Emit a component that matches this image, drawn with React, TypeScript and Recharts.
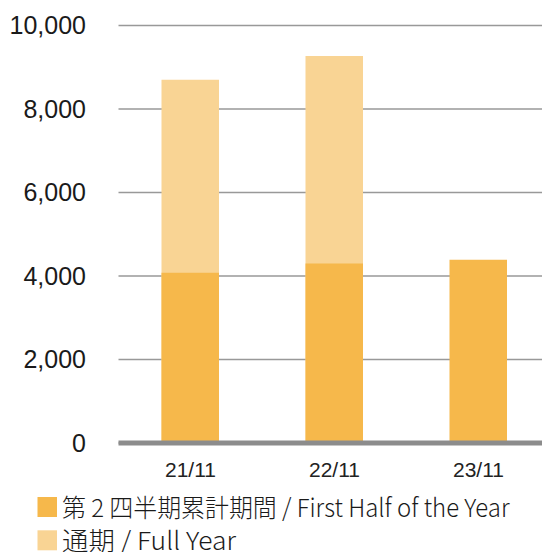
import { Bar, BarChart, CartesianGrid, XAxis, YAxis } from "recharts";

const periods = ["21/11", "22/11", "23/11"];
const firstHalf = [4080, 4300, 4390];
const fullYear = [8700, 9270, null];
const yTicks = [0, 2000, 4000, 6000, 8000, 10000];

const legendItems = [
  { label: "第 2 四半期累計期間 / First Half of the Year", color: "#F6B84B", width: 447.5 },
  { label: "通期 / Full Year", color: "#F9D494", width: 174 },
];

const data = periods.map((p, i) => ({
  period: p,
  half: firstHalf[i],
  full: fullYear[i],
}));

const tickFont = "'Liberation Sans', Arial, sans-serif";

function ChartLegend() {
  return (
    <svg width={542} height={72} style={{ position: "absolute", left: 0, top: 480, overflow: "visible" }}>
      {legendItems.map((item, i) => (
        <g key={item.label} transform={`translate(0, ${i * 33.3})`}>
          <rect x={37.5} y={17} width={19.5} height={20} fill={item.color} />
          <text
            x={62}
            y={36.5}
            fontSize={25}
            fill="#1a1a1a"
            fontFamily="'Noto Sans CJK JP', 'Noto Sans', sans-serif"
            fontWeight={300}
            textLength={item.width}
            lengthAdjust="spacingAndGlyphs"
          >
            {item.label}
          </text>
        </g>
      ))}
    </svg>
  );
}

export default function App() {
  return (
    <div
      style={{
        position: "absolute",
        left: 0,
        top: 0,
        width: 542,
        height: 552,
        overflow: "hidden",
        background: "#fff",
      }}
    >
      <BarChart
        width={560}
        height={552}
        data={data}
        margin={{ top: 25.5, right: 9.5, left: 0, bottom: 0 }}
        barGap={-57.5}
      >
        <CartesianGrid vertical={false} stroke="#999999" strokeWidth={1.5} />
        <XAxis
          dataKey="period"
          height={109}
          axisLine={{ stroke: "#8c8c8c", strokeWidth: 5 }}
          tickLine={false}
          tickSize={0}
          tickMargin={19}
          tick={{ fill: "#222222", fontSize: 21, fontFamily: tickFont }}
        />
        <YAxis
          domain={[0, 10000]}
          ticks={yTicks}
          width={118.5}
          axisLine={false}
          tickLine={false}
          tickSize={0}
          tickMargin={32.5}
          tickFormatter={(v: number) => v.toLocaleString("en-US")}
          tick={{ fill: "#1a1a1a", fontSize: 25, fontFamily: tickFont }}
        />
        <Bar dataKey="full" fill="#F9D494" barSize={57.5} isAnimationActive={false} />
        <Bar dataKey="half" fill="#F6B84B" barSize={57.5} isAnimationActive={false} />
      </BarChart>
      <ChartLegend />
    </div>
  );
}
